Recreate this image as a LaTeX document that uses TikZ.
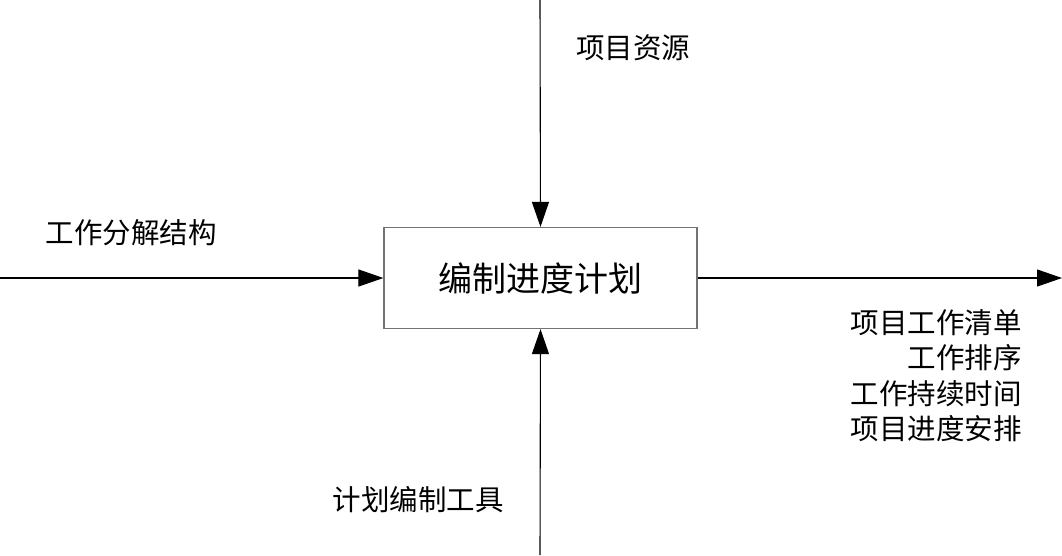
\documentclass[tikz,border=0pt]{standalone}
\usepackage{fontspec}
\newfontfamily\cjk{Noto Sans CJK SC}
\usetikzlibrary{arrows.meta}
\begin{document}
\begin{tikzpicture}[x=1pt,y=-1pt,
  lbl/.style={inner sep=0pt,font=\cjk\fontsize{28.5}{35.5}\selectfont},
  conn/.style={line width=1.1pt,-{Triangle[length=25pt,width=17pt]}},
  procbox/.style={draw=black!55,line width=1.2pt,minimum width=313pt,minimum height=101pt,inner sep=0pt,font=\cjk\fontsize{34}{40}\selectfont}]
\useasboundingbox (0,0) rectangle (1062,555);
\node[procbox] (box) at (540.5,278) {编制进度计划};
\coordinate (top) at (540,0);
\coordinate (bot) at (540,555);
\coordinate (lft) at (0,278);
\coordinate (rgt) at (1062,278);
\draw[conn] (top) -- (box.north);
\draw[conn] (bot) -- (box.south);
\draw[conn] (lft) -- (box.west);
\draw[conn] (box.east) -- (rgt);
\node[lbl] (res) at (633,48) {项目资源};
\node[lbl] (wbs) at (131,233) {工作分解结构};
\node[lbl] (tool) at (418,500) {计划编制工具};
\node[lbl,anchor=north east,align=right] (out) at (1022,309) {项目工作清单\\工作排序\\工作持续时间\\项目进度安排};
\end{tikzpicture}
\end{document}
